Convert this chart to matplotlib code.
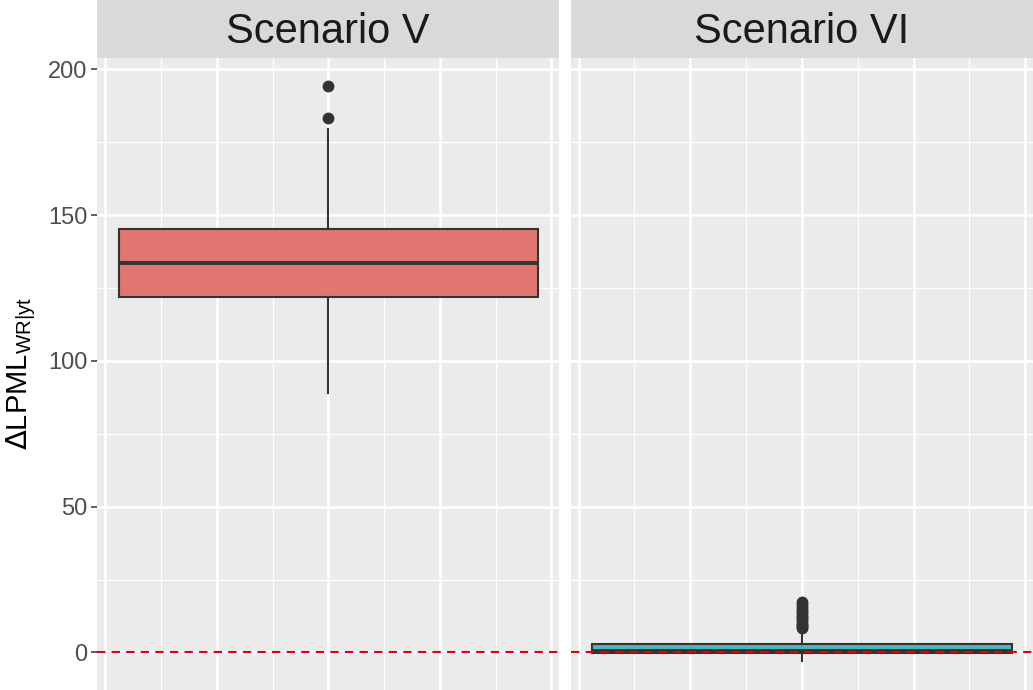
import matplotlib
matplotlib.use("Agg")
import matplotlib.pyplot as plt
from matplotlib.patches import Rectangle
from matplotlib.ticker import MultipleLocator

plt.rcParams['font.family'] = ['Liberation Sans', 'DejaVu Sans']

# ---- data ----
panels = ["Scenario V", "Scenario VI"]
box_q1 = [122.0, -0.3]
box_med = [133.7, 0.5]
box_q3 = [145.4, 2.9]
whisk_lo = [89.0, -3.0]
whisk_hi = [179.6, 6.9]
outliers_v = [183.3, 194.3]
outliers_vi = [8.3, 8.9, 9.5, 10.2, 11.0, 11.8, 12.6, 13.4, 14.2, 15.1, 16.2, 17.3]
fills = ["#E0766F", "#4DB5BA"]
yticks = [0, 50, 100, 150, 200]
ref_line = 0

W, H = 1033, 690
fig = plt.figure(figsize=(W / 100, H / 100), dpi=100)

panel_x = [(97.3, 559.3), (570.7, 1033.0)]
strip_top, panel_top = 0, 57.5
ylim = (-12.9, 204.1)
xlim = (-2.07, 2.07)
box_width = 3.76

fliers = [outliers_v, outliers_vi]
for i, name in enumerate(panels):
    x0, x1 = panel_x[i]
    ax = fig.add_axes([x0 / W, 0, (x1 - x0) / W, (H - panel_top) / H])
    ax.set_facecolor("#EBEBEB")
    ax.set_xlim(*xlim)
    ax.set_ylim(*ylim)
    ax.xaxis.set_major_locator(MultipleLocator(1))
    ax.xaxis.set_minor_locator(MultipleLocator(0.5))
    ax.set_yticks(yticks)
    ax.yaxis.set_minor_locator(MultipleLocator(25))
    ax.grid(True, which="major", color="white", linewidth=1.8, zorder=0)
    ax.grid(True, which="minor", color="white", linewidth=0.9, zorder=0)
    ax.set_axisbelow(True)
    for s in ax.spines.values():
        s.set_visible(False)
    ax.tick_params(axis="x", which="both", length=0, labelbottom=False)
    ax.tick_params(axis="y", which="minor", length=0)
    if i == 0:
        ax.tick_params(axis="y", which="major", length=4, width=1.1, color="#333333",
                       labelsize=17, labelcolor="#4D4D4D", pad=3)
    else:
        ax.tick_params(axis="y", which="both", length=0, labelleft=False)

    stats = [dict(med=box_med[i], q1=box_q1[i], q3=box_q3[i],
                  whislo=whisk_lo[i], whishi=whisk_hi[i], fliers=fliers[i])]
    ax.bxp(stats, positions=[0], widths=box_width, patch_artist=True,
           showcaps=False, manage_ticks=False,
           boxprops=dict(facecolor=fills[i], edgecolor="#333333", linewidth=1.5),
           medianprops=dict(color="#333333", linewidth=2.8),
           whiskerprops=dict(color="#333333", linewidth=1.5),
           flierprops=dict(marker="o", markerfacecolor="#333333",
                           markeredgecolor="#333333", markersize=7.5))
    ax.axhline(ref_line, color="#E30000", linestyle=(0, (4, 3)), linewidth=1.5, zorder=5)

    # strip
    sax = fig.add_axes([x0 / W, (H - panel_top) / H, (x1 - x0) / W, (panel_top - strip_top) / H])
    sax.set_xlim(0, 1); sax.set_ylim(0, 1)
    sax.add_patch(Rectangle((0, 0), 1, 1, facecolor="#D9D9D9", edgecolor="none"))
    sax.axis("off")
    sax.text(0.5, 0.44, name, ha="center", va="center", fontsize=30, color="#1A1A1A")

fig.text(21 / W, (H - 373) / H, r"$\Delta$LPML$_{\mathregular{WR|yt}}$",
         rotation=90, ha="center", va="center", fontsize=21, color="black")

fig.savefig("out.png", dpi=100)
